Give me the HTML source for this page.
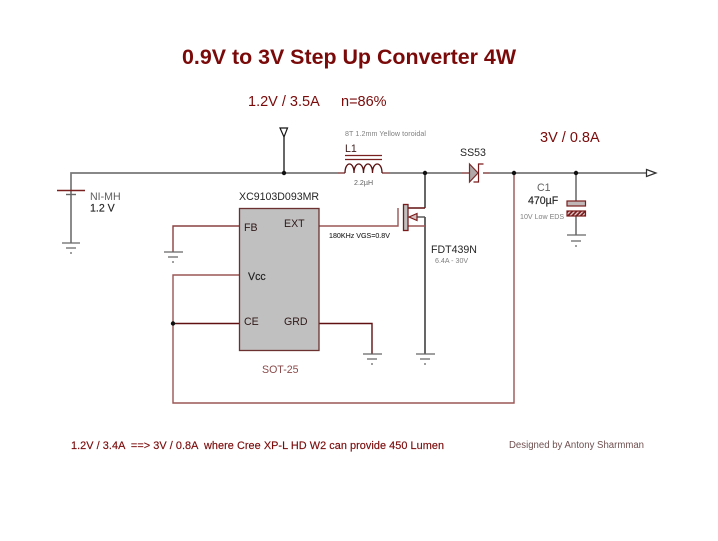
<!DOCTYPE html>
<html><head><meta charset="utf-8"><style>
html,body{margin:0;padding:0;background:#fff}
svg{display:block}
text{font-family:"Liberation Sans",sans-serif;white-space:pre}
</style></head><body>
<svg width="718" height="541" viewBox="0 0 718 541" xmlns="http://www.w3.org/2000/svg">
<defs>
<pattern id="h" width="3" height="3" patternUnits="userSpaceOnUse" patternTransform="rotate(45)"><rect width="3" height="3" fill="#7a1a1a"/><rect width="1.3" height="3" fill="#e0d0d0"/></pattern>
</defs>
<rect width="718" height="541" fill="#fff"/>
<g fill="none">
<g stroke="#777" stroke-width="1.7">
<path d="M71 243V173H345"/>
<path d="M382 173H469"/>
<path d="M483 173H646"/>
<path d="M576 173V201M576 216V235"/>
</g>
<path d="M338 173H345M382 173H390M462 173H469M483 173H489" stroke="#a87070" stroke-width="1.7"/>
<g stroke="#151515" stroke-width="1.3">
<path d="M284 137V173"/>
<path d="M425 173V208"/>
<path d="M425 217V354"/>
</g>
<g stroke-width="1.4">
<path d="M239 226H173V252" stroke="#8a4040"/>
<path d="M239 275H173V403H514V173" stroke="#9a5555"/>
<path d="M173 323.500H239" stroke="#601010"/>
<path d="M319 323.500H372V354" stroke="#601010"/>
<path d="M319 226H398V208" stroke="#9a5555"/>
<path d="M408 208H425" stroke="#601010"/>
<path d="M408 226H425" stroke="#9a5555"/>
<path d="M417 217H425" stroke="#505050"/>
</g>
<g stroke="#666" stroke-width="1.3">
<path d="M62 243H80M66 248H76M70 253H72"/>
<path d="M164 252H183M168 257H178M172 262H174"/>
<path d="M363 354H382M367 359H377M371 364H373"/>
<path d="M416 354H435M420 359H430M424 364H426"/>
<path d="M567 235H586M571 241H581M575 246H577"/>
</g>
<path d="M57 190.500H85" stroke="#7a2020" stroke-width="1.4"/>
<path d="M66 194.500H76" stroke="#666" stroke-width="1.4"/>
<path d="M345 173C345 161 354 161 354 173C354 161 363.500 161 363.500 173C363.500 161 372.500 161 372.500 173C372.500 161 382 161 382 173" stroke="#5a1010" stroke-width="1.3"/>
<path d="M345 155.500H382M345 159.500H382" stroke="#7a2020" stroke-width="1.2"/>
<path d="M469.500 164L478 173L469.500 182Z" fill="#b0a8a8" stroke="#7a2a2a" stroke-width="1.2"/>
<path d="M483.500 164H478.500V182H473.500" stroke="#7a1a1a" stroke-width="1.2"/>
<path d="M280 128H287.500L284 137Z" fill="#fff" stroke="#151515" stroke-width="1.2"/>
<path d="M646.500 169.500L656 173L646.500 176.500Z" fill="#fff" stroke="#303030" stroke-width="1.2"/>
<rect x="567" y="201" width="18.500" height="5" fill="#c0b8b8" stroke="#7a2020" stroke-width="1.2"/>
<rect x="567" y="211" width="18.500" height="5" fill="url(#h)" stroke="#7a1a1a" stroke-width="1.2"/>
<rect x="239.500" y="208.500" width="79.500" height="142" fill="#c0c0c0" stroke="#6b3030" stroke-width="1.3"/>
<rect x="403.500" y="204.500" width="4.500" height="26" fill="#c0c0c0" stroke="#7a1a1a" stroke-width="1.3"/>
<path d="M409 217L417 213.500V220.500Z" fill="#d0c0c0" stroke="#7a1a1a" stroke-width="1.2"/>
</g>
<g fill="#101010">
<circle cx="284" cy="173" r="2.200"/>
<circle cx="425" cy="173" r="2.200"/>
<circle cx="514" cy="173" r="2.200"/>
<circle cx="576" cy="173" r="2.200"/>
<circle cx="173" cy="323.500" r="2.200"/>
</g>
<g fill="#7a0a0a">
<text x="182" y="64" font-size="21.400" font-weight="bold">0.9V to 3V Step Up Converter 4W</text>
<text x="248" y="106" font-size="14.500">1.2V / 3.5A</text>
<text x="341" y="106" font-size="14.500">n=86%</text>
<text x="540" y="142" font-size="14.500">3V / 0.8A</text>
<text x="71" y="449" font-size="10.900" stroke="#7a0a0a" stroke-width="0.15" textLength="373" lengthAdjust="spacing">1.2V / 3.4A  ==&gt; 3V / 0.8A  where Cree XP-L HD W2 can provide 450 Lumen</text>
</g>
<g fill="#252525" font-size="10.600">
<text x="345" y="152" fill="#402020">L1</text>
<text x="460" y="156">SS53</text>
<text x="528" y="204" stroke="#252525" stroke-width="0.15">470µF</text>
<text x="90" y="211.500" stroke="#252525" stroke-width="0.15">1.2 V</text>
<text x="239" y="200">XC9103D093MR</text>
<text x="431" y="253">FDT439N</text>
<text x="329" y="238" font-size="7.100" stroke="#252525" stroke-width="0.1">180KHz VGS=0.8V</text>
<text x="244" y="231" fill="#301818">FB</text>
<text x="284" y="227" fill="#301818">EXT</text>
<text x="248" y="280" fill="#202020" stroke="#202020" stroke-width="0.15">Vcc</text>
<text x="244" y="325" fill="#301818">CE</text>
<text x="284" y="325" fill="#301818">GRD</text>
</g>
<g fill="#808080" font-size="7.100">
<text x="345" y="136" textLength="81" lengthAdjust="spacing">8T 1.2mm Yellow toroidal</text>
<text x="354" y="185" fill="#606060">2.2µH</text>
<text x="90" y="200" font-size="10.600" fill="#606060">NI-MH</text>
<text x="537" y="191" font-size="10.600" fill="#606060">C1</text>
<text x="520" y="219">10V Low EDS</text>
<text x="435" y="263">6.4A - 30V</text>
</g>
<text x="262" y="373" font-size="10.600" fill="#8a4a4a">SOT-25</text>
<text x="509" y="448" font-size="10" fill="#705050" textLength="135" lengthAdjust="spacingAndGlyphs">Designed by Antony Sharmman</text>
</svg>
</body></html>
